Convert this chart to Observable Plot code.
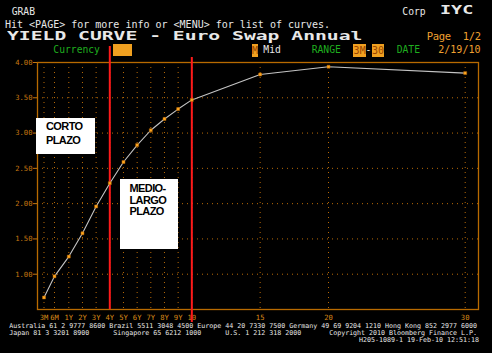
<!DOCTYPE html>
<html><head><meta charset="utf-8">
<script src="https://cdn.jsdelivr.net/npm/d3@7"></script>
<script src="https://cdn.jsdelivr.net/npm/@observablehq/plot@0.6"></script>
<style>
html,body{margin:0;padding:0;background:#000;}
#wrap{position:relative;width:492px;height:353px;background:#000;overflow:hidden;font-family:"DejaVu Sans Mono",monospace;}
#wrap svg{position:absolute;left:0;top:0;}
.t{position:absolute;white-space:pre;line-height:1;font-family:"DejaVu Sans Mono",monospace;}
.box{position:absolute;background:#f0a020;}
.note{position:absolute;background:#fff;}
.nt{position:absolute;white-space:pre;font-family:"Liberation Sans",Arial,sans-serif;font-weight:bold;font-size:11px;letter-spacing:-0.6px;color:#000;}
</style></head><body><div id="wrap"></div>
<script>
// ---- data ----
const tenors = [0.25, 0.5, 1, 2, 3, 4, 5, 6, 7, 8, 9, 10, 15, 20, 30];
const tenorLabels = ["3M","6M","1Y","2Y","3Y","4Y","5Y","6Y","7Y","8Y","9Y","10","15","20","30"];
const yields = [0.67, 0.97, 1.25, 1.58, 1.96, 2.29, 2.59, 2.83, 3.04, 3.20, 3.34, 3.47, 3.83, 3.94, 3.85];
const yTicks = [1.0, 1.5, 2.0, 2.5, 3.0, 3.5, 4.0];
const cutTenors = [4, 10];
const shortLabel = ["CORTO", "PLAZO"];
const longLabel = ["MEDIO-", "LARGO", "PLAZO"];
const headerLine1 = "GRAB";
const headerLine2 = "Hit <PAGE> for more info or <MENU> for list of curves.";
const titleText = "YIELD CURVE - Euro Swap Annual";
const footerLines = [
  "Australia 61 2 9777 8600 Brazil 5511 3048 4500 Europe 44 20 7330 7500 Germany 49 69 9204 1210 Hong Kong 852 2977 6000",
  "Japan 81 3 3201 8900      Singapore 65 6212 1000      U.S. 1 212 318 2000       Copyright 2010 Bloomberg Finance L.P.",
  "H205-1089-1 19-Feb-10 12:51:18"
];

const data = tenors.map((t, i) => ({tenor: t, label: tenorLabels[i], yield: yields[i]}));

const ORANGE = "#c87810";
const GRID = "#b86a08";

const chart = Plot.plot({
  width: 492, height: 353,
  marginLeft: 37, marginRight: 14, marginTop: 62, marginBottom: 44,
  style: {background: "transparent", color: ORANGE, fontFamily: "DejaVu Sans Mono, monospace", fontSize: "7px", overflow: "visible"},
  x: {type: "linear", domain: [0.25, 0.5, 1, 30], range: [43.5, 54, 68.3, 464.7], label: null},
  y: {domain: [0.5, 4.0], label: null},
  marks: [
    Plot.gridX(tenors, {stroke: GRID, strokeOpacity: 1, strokeWidth: 1, strokeDasharray: "1,4"}),
    Plot.gridY(yTicks.slice(0, -1), {stroke: GRID, strokeOpacity: 1, strokeWidth: 1, strokeDasharray: "1,4"}),
    Plot.frame({stroke: "#b86a00", strokeWidth: 1.3}),
    Plot.axisY(yTicks, {label: null, tickFormat: d => d.toFixed(2), tickSize: 4, tickPadding: 1, color: ORANGE, fontSize: 7.2}),
    Plot.axisX(tenors, {label: null, tickFormat: d => tenorLabels[tenors.indexOf(d)], tickSize: 0, tickPadding: 5, color: "#d88a18", fontSize: 7.2, letterSpacing: "-0.3px"}),
    Plot.ruleX([cutTenors[0]], {stroke: "#ff1a1a", strokeWidth: 2, insetTop: -16}),
    Plot.ruleX([cutTenors[1]], {stroke: "#ff1a1a", strokeWidth: 2, insetTop: -5, insetBottom: -13}),
    Plot.line(data, {x: "tenor", y: "yield", stroke: "#c4c4c4", strokeWidth: 1.1}),
    Plot.dot(data, {x: "tenor", y: "yield", symbol: "square", r: 1.7, fill: "#ffa820", stroke: "#b06000", strokeWidth: 0.5})
  ]
});

const wrap = document.getElementById("wrap");
wrap.appendChild(chart);

function txt(text, x, top, size, color, extra) {
  const d = document.createElement("div");
  d.className = "t";
  d.textContent = text;
  d.style.left = x + "px";
  d.style.top = top + "px";
  d.style.fontSize = size + "px";
  d.style.color = color;
  if (extra) Object.assign(d.style, extra);
  wrap.appendChild(d);
  return d;
}
function box(x, y, w, h, text) {
  const d = document.createElement("div");
  d.className = "box";
  Object.assign(d.style, {left: x + "px", top: y + "px", width: w + "px", height: h + "px",
    color: "#9a4400", fontSize: "10px", lineHeight: h + "px", textAlign: "center",
    fontFamily: "DejaVu Sans Mono, monospace", overflow: "hidden"});
  if (text) d.textContent = text;
  wrap.appendChild(d);
}

const WHITE = "#e8e8e8", GREEN = "#1fae1f", ORG = "#f0a030";
txt(headerLine1, 11.7, 6.8, 9.7, WHITE);
txt(headerLine2, 5, 19.8, 10, WHITE);
txt(titleText, 7, 30.3, 12.3, WHITE, {fontWeight: "bold", transform: "scaleX(1.6)", transformOrigin: "0 0"});
txt("Corp", 402.3, 6.8, 9.7, WHITE);
txt("IYC", 440, 5.4, 11.4, WHITE, {fontWeight: "bold", transform: "scaleX(1.62)", transformOrigin: "0 0"});
txt("Page  1/2", 426.7, 31.4, 10.5, ORG, {letterSpacing: "-0.3px"});
txt("Currency", 53.3, 44.5, 9.7, GREEN);
box(113.3, 44, 18.4, 12);
box(251.7, 43.5, 6.8, 13, "M");
txt("Mid", 263.3, 44.5, 9.7, WHITE);
txt("RANGE", 311.7, 44.5, 9.7, GREEN);
box(353.3, 43.5, 12.7, 13, "3M");
txt("-", 365.6, 44.5, 9.7, WHITE);
box(371.7, 43.5, 12.7, 13, "30");
txt("DATE", 396.7, 44.5, 9.7, GREEN);
txt("2/19/10", 438.3, 44.5, 10, ORG);

txt(footerLines[0], 9.3, 323.0, 6.65, WHITE);
txt(footerLines[1], 9.3, 330.2, 6.65, WHITE);
txt(footerLines[2], 0, 337.3, 6.65, WHITE, {left: "auto", right: "13px"});

// annotation boxes
function note(x, y, w, h, lines, tx, ty, lh) {
  const b = document.createElement("div");
  b.className = "note";
  Object.assign(b.style, {left: x + "px", top: y + "px", width: w + "px", height: h + "px"});
  wrap.appendChild(b);
  lines.forEach((s, i) => {
    const d = document.createElement("div");
    d.className = "nt";
    d.textContent = s;
    Object.assign(d.style, {left: tx + "px", top: (ty + i * lh) + "px", lineHeight: "11px"});
    wrap.appendChild(d);
  });
}
note(36, 118.3, 59, 36, shortLabel, 46, 121.1, 13.4);
note(120, 178.5, 58, 70, longLabel, 129.5, 183.0, 11.7);
</script>
</body></html>
